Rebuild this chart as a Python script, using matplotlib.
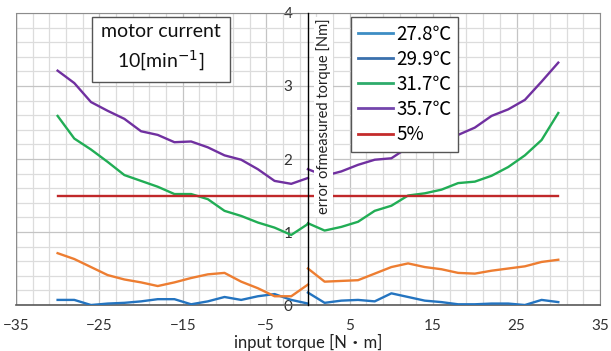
import matplotlib.pyplot as plt
from matplotlib.lines import Line2D
from matplotlib.ticker import MultipleLocator, FixedLocator

plt.rcParams['font.family'] = ['Lato', 'Noto Sans CJK JP', 'DejaVu Sans']

# torque steps, the series meet at 0 from both sides
x_neg = [-30, -28, -26, -24, -22, -20, -18, -16, -14, -12, -10, -8, -6, -4, -2, 0]
x_pos = [0, 2, 4, 6, 8, 10, 12, 14, 16, 18, 20, 22, 24, 26, 28, 30]

blue_neg = [0.07, 0.07, 0.00, 0.02, 0.03, 0.05, 0.08, 0.08, 0.01, 0.05, 0.11, 0.07, 0.12, 0.15, 0.07, 0.02]
blue_pos = [0.17, 0.03, 0.06, 0.07, 0.05, 0.16, 0.11, 0.06, 0.04, 0.01, 0.01, 0.02, 0.02, 0.00, 0.07, 0.04]
orange_neg = [0.71, 0.63, 0.52, 0.41, 0.35, 0.31, 0.26, 0.31, 0.37, 0.42, 0.44, 0.32, 0.23, 0.12, 0.12, 0.28]
orange_pos = [0.50, 0.32, 0.33, 0.34, 0.43, 0.52, 0.57, 0.52, 0.49, 0.44, 0.43, 0.47, 0.50, 0.53, 0.59, 0.62]
green_neg = [2.59, 2.28, 2.13, 1.96, 1.78, 1.70, 1.62, 1.52, 1.52, 1.45, 1.29, 1.22, 1.13, 1.06, 0.96, 1.11]
green_pos = [1.12, 1.02, 1.07, 1.14, 1.29, 1.36, 1.50, 1.53, 1.58, 1.67, 1.69, 1.77, 1.89, 2.05, 2.26, 2.63]
purple_neg = [3.21, 3.04, 2.78, 2.66, 2.55, 2.38, 2.33, 2.23, 2.24, 2.16, 2.05, 1.99, 1.86, 1.70, 1.66, 1.74]
purple_pos = [1.86, 1.77, 1.83, 1.92, 1.99, 2.01, 2.16, 2.21, 2.25, 2.33, 2.43, 2.59, 2.68, 2.81, 3.06, 3.32]
limit_x = [-30, 30]
limit_y = [1.5, 1.5]

legend_labels = ['27.8\u2103', '29.9\u2103', '31.7\u2103', '35.7\u2103', '5%']
legend_colors = ['#3d8dc4', '#3a70ad', '#2eab6b', '#7446ac', '#c42b2b']

C_BLUE = '#2474c0'
C_ORANGE = '#ed7d31'
C_GREEN = '#21ad55'
C_PURPLE = '#7030a0'
C_RED = '#c0282a'

fig = plt.figure(figsize=(6.11, 3.51), dpi=100)
ax = fig.add_axes([0.026, 0.131, 0.956, 0.832])

lw = 1.7
ax.plot(x_neg, blue_neg, color=C_BLUE, lw=lw, zorder=3)
ax.plot(x_pos, blue_pos, color=C_BLUE, lw=lw, zorder=3)
ax.plot(x_neg, orange_neg, color=C_ORANGE, lw=lw, zorder=3)
ax.plot(x_pos, orange_pos, color=C_ORANGE, lw=lw, zorder=3)
ax.plot(x_neg, green_neg, color=C_GREEN, lw=lw, zorder=3)
ax.plot(x_pos, green_pos, color=C_GREEN, lw=lw, zorder=3)
ax.plot(x_neg, purple_neg, color=C_PURPLE, lw=lw, zorder=3)
ax.plot(x_pos, purple_pos, color=C_PURPLE, lw=lw, zorder=3)
ax.plot(limit_x, limit_y, color=C_RED, lw=lw, zorder=3)

ax.set_xlim(-35, 35)
ax.set_ylim(0, 4)
ax.xaxis.set_major_locator(FixedLocator([-35, -25, -15, -5, 5, 15, 25, 35]))
ax.xaxis.set_minor_locator(MultipleLocator(2, offset=1))
ax.yaxis.set_major_locator(MultipleLocator(1))
ax.yaxis.set_minor_locator(MultipleLocator(0.2))
ax.grid(which='major', color='#c4c4c4', lw=0.9)
ax.grid(which='minor', color='#dcdcdc', lw=0.9)
ax.set_axisbelow(True)

# y axis sits on x = 0
ax.spines['left'].set_position(('data', 0))
ax.spines['left'].set_color('black')
ax.spines['left'].set_linewidth(1.0)
ax.spines['left'].set_zorder(4)
for s in ['top', 'right']:
    ax.spines[s].set_color('#8c8c8c')
ax.spines['bottom'].set_color('#595959')
ax.spines['bottom'].set_linewidth(1.2)
ax.axvline(-35, color='#8c8c8c', lw=1.0)

ax.tick_params(axis='both', which='both', length=0, labelsize=11, colors='#333333')
ax.tick_params(axis='y', pad=11)
ax.tick_params(axis='x', pad=10)

ax.set_xlabel('input torque [N\u30fbm]', fontsize=12, labelpad=1, color='#222222')

ax.text(1.9, 2.58, 'error ofmeasured torque [Nm]', rotation=90, ha='center', va='center',
        fontsize=10.5, color='#222222', zorder=5,
        bbox=dict(facecolor='white', edgecolor='none', pad=1.5))

ax.text(-17.6, 3.52, 'motor current\n10[min$^{-1}$]', ha='center', va='center',
        fontsize=14, linespacing=1.45, color='#111111', zorder=5,
        bbox=dict(facecolor='white', edgecolor='#555555', boxstyle='square,pad=0.45'))

handles = [Line2D([], [], color=c, lw=2) for c in legend_colors]
leg = ax.legend(handles, legend_labels, loc='upper left', bbox_to_anchor=(0.574, 0.986),
                prop={'family': ['Noto Sans CJK JP', 'DejaVu Sans'], 'size': 13.5},
                frameon=True, fancybox=False, handlelength=1.9,
                handletextpad=0.15, labelspacing=0.22, borderpad=0.35,
                borderaxespad=0)
leg.get_frame().set_edgecolor('#555555')
leg.get_frame().set_linewidth(1.0)
leg.get_frame().set_alpha(1)
leg.set_zorder(6)

fig.savefig('out.png', dpi=100)
